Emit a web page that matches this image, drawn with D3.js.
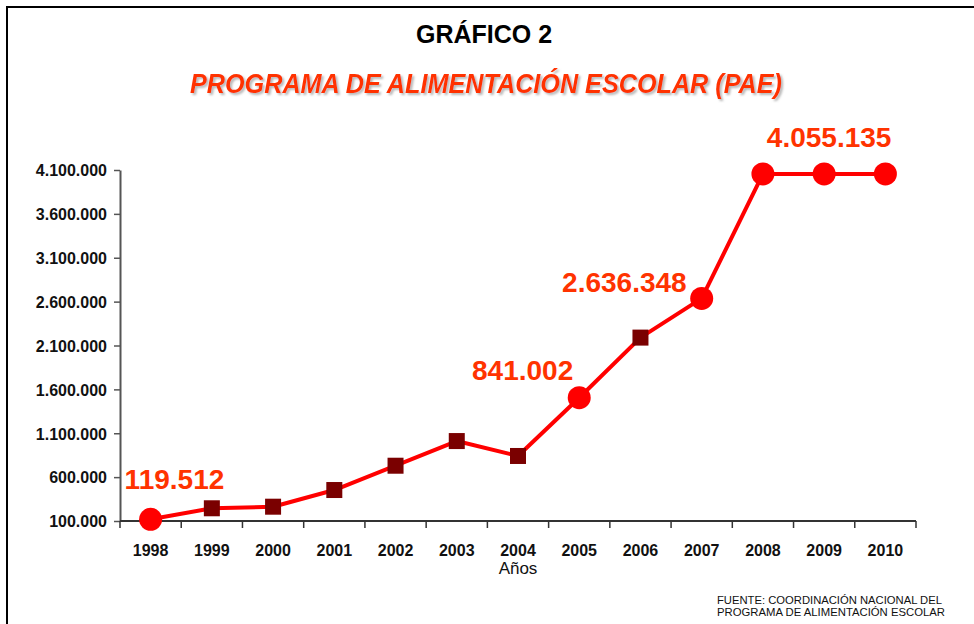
<!DOCTYPE html>
<html>
<head>
<meta charset="utf-8">
<script src="https://cdn.jsdelivr.net/npm/d3@7"></script>
<style>
  html, body { margin: 0; padding: 0; background: #fff; }
  svg { display: block; font-family: "Liberation Sans", Arial, sans-serif; }
</style>
</head>
<body>
<svg id="chart" width="974" height="624"></svg>
<script>
// ---- data ----
const years = ["1998","1999","2000","2001","2002","2003","2004","2005","2006","2007","2008","2009","2010"];
const values = [119512, 245000, 263000, 453000, 730000, 1011000, 841002, 1505000, 2190000, 2636348, 4055135, 4055135, 4055135];
const markerTypes = ["circle","square","square","square","square","square","square","circle","square","circle","circle","circle","circle"];
const yTicks = [100000, 600000, 1100000, 1600000, 2100000, 2600000, 3100000, 3600000, 4100000];
// value labels: text and the year whose point they sit beside
const labelTexts = ["119.512", "841.002", "2.636.348", "4.055.135"];
const labelYears = ["1998", "2005", "2007", "2009"];

const title = "GRÁFICO 2";
const subtitle = "PROGRAMA DE ALIMENTACIÓN ESCOLAR (PAE)";
const xAxisTitle = "Años";
const sourceLines = ["FUENTE: COORDINACIÓN NACIONAL DEL", "PROGRAMA DE ALIMENTACIÓN ESCOLAR"];

// ---- layout ----
const svg = d3.select("#chart");
const plot = { left: 120, right: 916, top: 170, bottom: 521 };

// frame
svg.append("rect").attr("x", 7).attr("y", 7).attr("width", 1000).attr("height", 700)
  .attr("fill", "none").attr("stroke", "#000").attr("stroke-width", 2);

const defs = svg.append("defs");
const f = defs.append("filter").attr("id", "shadow").attr("x", "-10%").attr("y", "-30%").attr("width", "120%").attr("height", "160%");
f.append("feDropShadow").attr("dx", 2).attr("dy", 2).attr("stdDeviation", 1.2).attr("flood-color", "#888").attr("flood-opacity", 0.6);

// titles
svg.append("text").attr("x", 484).attr("y", 43).attr("text-anchor", "middle")
  .attr("font-size", 25).attr("font-weight", "bold").attr("fill", "#000").text(title);
svg.append("text").attr("x", 486).attr("y", 93).attr("text-anchor", "middle")
  .attr("font-size", 27).attr("font-weight", "bold").attr("font-style", "italic")
  .attr("fill", "#ff3300").attr("filter", "url(#shadow)")
  .attr("textLength", 592).attr("lengthAdjust", "spacingAndGlyphs").text(subtitle);

// scales
const x = d3.scaleBand().domain(years).range([plot.left, plot.right]);
const y = d3.scaleLinear().domain([100000, 4100000]).range([plot.bottom, plot.top]);
const fmt = v => d3.format(",")(v).replace(/,/g, ".");

// y axis
const yAxis = svg.append("g").attr("transform", `translate(${plot.left},0)`)
  .call(d3.axisLeft(y).tickValues(yTicks).tickFormat(fmt).tickSize(6).tickSizeOuter(0));
yAxis.select(".domain").attr("stroke", "#555").attr("stroke-width", 2);
yAxis.selectAll(".tick line").attr("stroke", "#555").attr("stroke-width", 1.5);
yAxis.selectAll(".tick text").attr("font-size", 16).attr("font-weight", "bold").attr("fill", "#111")
  .attr("font-family", "Liberation Sans, Arial, sans-serif").attr("x", -13).attr("dy", "0.36em");

// x axis with ticks at band boundaries
const xAxisG = svg.append("g").attr("transform", `translate(0,${plot.bottom})`);
xAxisG.append("line").attr("x1", plot.left).attr("x2", plot.right).attr("stroke", "#333").attr("stroke-width", 2);
const boundaries = years.map(d => x(d)).concat([x(years[years.length - 1]) + x.bandwidth()]);
xAxisG.selectAll("line.tk").data(boundaries).enter().append("line").attr("class", "tk")
  .attr("x1", d => d).attr("x2", d => d).attr("y1", 0).attr("y2", 7)
  .attr("stroke", "#333").attr("stroke-width", 1.5);
xAxisG.selectAll("text").data(years).enter().append("text")
  .attr("x", d => x(d) + x.bandwidth() / 2).attr("y", 35).attr("text-anchor", "middle")
  .attr("font-size", 16).attr("font-weight", "bold").attr("fill", "#111").text(d => d);

svg.append("text").attr("x", 518).attr("y", 574).attr("text-anchor", "middle")
  .attr("font-size", 17).attr("fill", "#111").text(xAxisTitle);

// line
const cx = d => x(d) + x.bandwidth() / 2;
const line = d3.line().x((d, i) => cx(years[i])).y(d => y(d));
svg.append("path").datum(values).attr("d", line).attr("fill", "none")
  .attr("stroke", "#ff0000").attr("stroke-width", 4).attr("stroke-linejoin", "round");

// markers
const pts = years.map((yr, i) => ({ yr, v: values[i], t: markerTypes[i] }));
svg.selectAll("rect.sq").data(pts.filter(p => p.t === "square")).enter().append("rect").attr("class", "sq")
  .attr("x", p => cx(p.yr) - 8).attr("y", p => y(p.v) - 8).attr("width", 16).attr("height", 16)
  .attr("fill", "#7a0000");
svg.selectAll("circle.ci").data(pts.filter(p => p.t === "circle")).enter().append("circle").attr("class", "ci")
  .attr("cx", p => cx(p.yr)).attr("cy", p => y(p.v)).attr("r", 11.5).attr("fill", "#ff0000");

// value labels
const labelOffsets = [
  { dx: -26, dy: -30, anchor: "start" },
  { dx: -6, dy: -18, anchor: "end" },
  { dx: -15, dy: -6, anchor: "end" },
  { dx: 5, dy: -27, anchor: "middle" }
];
labelTexts.forEach((t, i) => {
  const yr = labelYears[i];
  const v = values[years.indexOf(yr)];
  const o = labelOffsets[i];
  svg.append("text").attr("x", cx(yr) + o.dx).attr("y", y(v) + o.dy).attr("text-anchor", o.anchor)
    .attr("font-size", 28).attr("font-weight", "bold").attr("fill", "#ff3300").text(t);
});

// source
sourceLines.forEach((s, i) => {
  svg.append("text").attr("x", 717).attr("y", 604 + i * 11.5).attr("font-size", 10.5).attr("fill", "#111")
    .attr("textLength", i === 0 ? 225 : 228).attr("lengthAdjust", "spacingAndGlyphs").text(s);
});
</script>
</body>
</html>
